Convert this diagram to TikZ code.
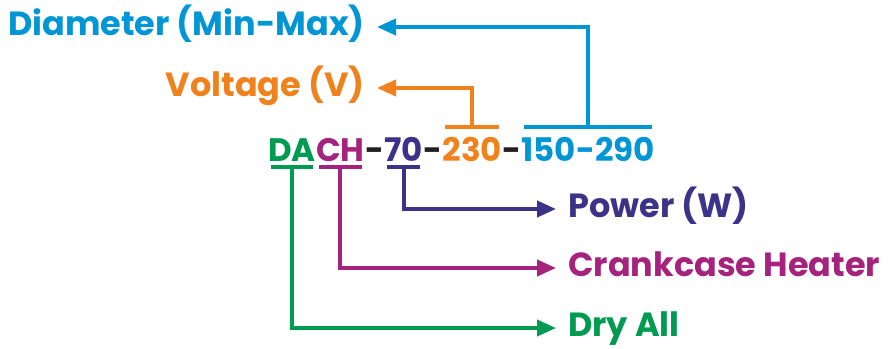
\documentclass[tikz,border=0pt]{standalone}
\usepackage{fontspec}
\setmainfont{Poppins}
\usetikzlibrary{arrows.meta,calc}

\definecolor{diablue}{RGB}{0,150,214}
\definecolor{voltorange}{RGB}{240,130,30}
\definecolor{powpurple}{RGB}{60,50,135}
\definecolor{heatmagenta}{RGB}{165,35,125}
\definecolor{drygreen}{RGB}{0,155,80}
\definecolor{sepgray}{RGB}{35,31,32}

\tikzset{
  lab/.style={inner ysep=0pt, inner xsep=12pt, font=\fontsize{33.5}{38}\selectfont\bfseries,
    text height=22pt, text depth=6pt},
  code/.style={inner sep=0pt, font=\fontsize{32.5}{38}\selectfont\bfseries,
    text height=24pt, text depth=0pt, anchor=base west},
  conn/.style={line width=4pt},
  arr/.style={conn, -{Triangle[length=19pt,width=16pt]}},
  bar/.style={conn, shorten <=3pt, shorten >=3pt}
}

\begin{document}
\begin{tikzpicture}[x=1pt,y=-1pt]
    \useasboundingbox (0,0) rectangle (896,348);

    % Typenbezeichnung
    \node[code, text=drygreen] (da) at (268,161) {DA};
    \node[code, text=heatmagenta] (ch) at (da.base east) {CH};
    \node[code, text=sepgray] (sepa) at (ch.base east) {-};
    \node[code, text=powpurple] (pw) at (sepa.base east) {70};
    \node[code, text=sepgray] (sepb) at (pw.base east) {-};
    \node[code, text=voltorange] (vt) at (sepb.base east) {230};
    \node[code, text=sepgray] (sepc) at (vt.base east) {-};
    \node[code, text=diablue] (dm) at (sepc.base east) {150-290};

    % Beschriftungen links oben
    \node[lab, text=diablue, anchor=base east] (dia) at (377,35) {Diameter (Min-Max)};
    \node[lab, text=voltorange, anchor=base east] (volt) at (377,96) {Voltage (V)};

    % Beschriftungen rechts unten
    \node[lab, text=powpurple, anchor=base west] (power) at (556,217) {Power (W)};
    \node[lab, text=heatmagenta, anchor=base west] (heater) at (556,276) {Crankcase Heater};
    \node[lab, text=drygreen, anchor=base west] (dry) at (556,336) {Dry All};

    % Balken ueber dem Text
    \draw[bar, voltorange] ($(vt.north west)+(0,-10)$) -- coordinate (vtm) ($(vt.north east)+(0,-10)$);
    \draw[bar, diablue] ($(dm.north west)+(0,-10)$) -- coordinate (dmm) ($(dm.north east)+(0,-10)$);

    % Balken unter dem Text
    \draw[bar, drygreen] ($(da.south west)+(0,6)$) -- coordinate (dam) ($(da.south east)+(0,6)$);
    \draw[bar, heatmagenta] ($(ch.south west)+(0,6)$) -- coordinate (chm) ($(ch.south east)+(0,6)$);
    \draw[bar, powpurple] ($(pw.south west)+(0,6)$) -- coordinate (pwm) ($(pw.south east)+(0,6)$);

    % Pfeile
    \draw[arr, diablue] (dmm) |- (dia.east);
    \draw[arr, voltorange] (vtm) |- (volt.east);
    \draw[arr, powpurple] (pwm) |- (power.west);
    \draw[arr, heatmagenta] (chm) |- (heater.west);
    \draw[arr, drygreen] (dam) |- (dry.west);
\end{tikzpicture}
\end{document}
